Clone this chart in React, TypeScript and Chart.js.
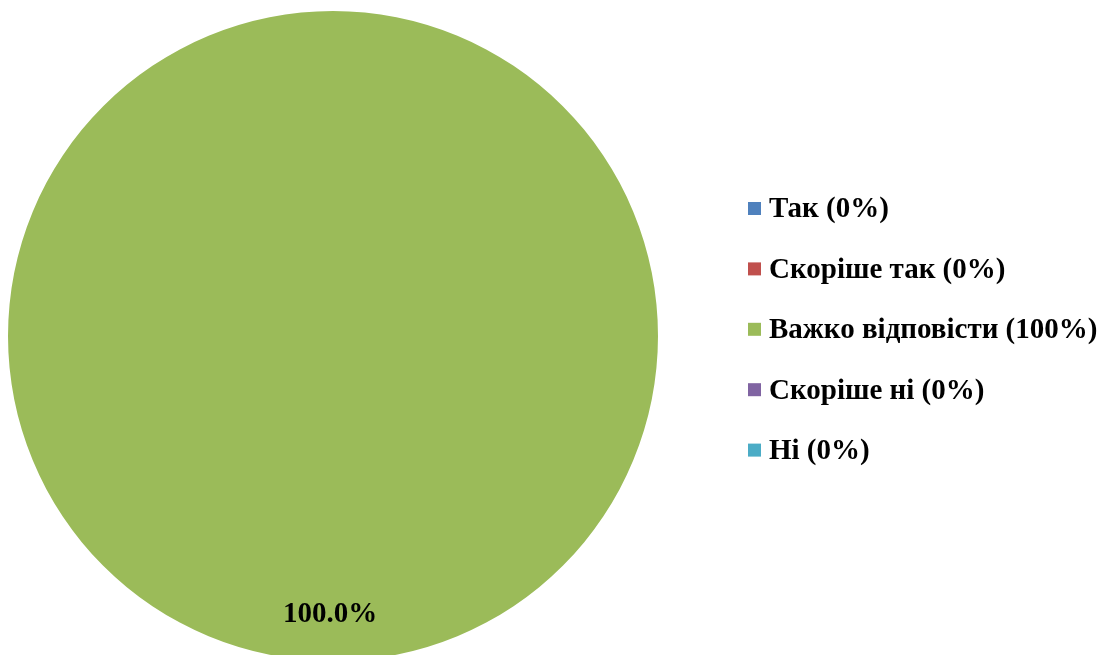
import React, { useEffect, useRef } from "react";
import { Chart, registerables } from "chart.js";

Chart.register(...registerables);

const categories = ["Так (0%)", "Скоріше так (0%)", "Важко відповісти (100%)", "Скоріше ні (0%)", "Ні (0%)"];
const values = [0, 0, 100, 0, 0];
const colors = ["#4F81BD", "#C0504D", "#9BBB59", "#8064A2", "#4BACC6"];
const dataLabels = ["", "", "100.0%", "", ""];

const FONT = "bold 29px 'Liberation Serif', 'Times New Roman', serif";

const overlayPlugin = {
  id: "overlay",
  afterDraw(chart: any) {
    const ctx = chart.ctx;
    const meta = chart.getDatasetMeta(0);
    ctx.save();
    // data labels
    ctx.font = FONT;
    ctx.fillStyle = "#000";
    ctx.textAlign = "center";
    ctx.textBaseline = "middle";
    meta.data.forEach((arc: any, i: number) => {
      if (!values[i] || !dataLabels[i]) return;
      const p = arc.getProps(["x", "y", "startAngle", "endAngle", "outerRadius"], true);
      const mid = (p.startAngle + p.endAngle) / 2;
      const r = p.outerRadius * 0.855;
      ctx.fillText(dataLabels[i], p.x - 3 + Math.cos(mid) * r, p.y + 1 + Math.sin(mid) * r);
    });
    // legend
    const lx = 748;
    const y0 = 209;
    const step = 60.4;
    ctx.font = FONT;
    ctx.textAlign = "left";
    ctx.textBaseline = "middle";
    categories.forEach((c, i) => {
      const y = y0 + i * step;
      ctx.fillStyle = colors[i];
      ctx.fillRect(lx, y - 7, 13, 13);
      ctx.fillStyle = "#000";
      ctx.fillText(c, 769, y + 1);
    });
    ctx.restore();
  },
};

export default function App() {
  const ref = useRef<HTMLCanvasElement>(null);
  useEffect(() => {
    if (!ref.current) return;
    const chart = new Chart(ref.current, {
      type: "pie",
      data: {
        labels: categories,
        datasets: [
          {
            data: values,
            backgroundColor: colors,
            borderWidth: 0,
          },
        ],
      },
      options: {
        responsive: false,
        animation: false,
        layout: { padding: { left: 8, top: 11, right: 454, bottom: 0 } },
        plugins: {
          legend: { display: false },
          tooltip: { enabled: false },
        },
      },
      plugins: [overlayPlugin],
    });
    return () => chart.destroy();
  }, []);
  return (
    <div
      style={{
        position: "fixed",
        left: 0,
        top: 0,
        width: 1112,
        height: 655,
        overflow: "hidden",
        background: "#fff",
      }}
    >
      <canvas ref={ref} width={1112} height={661} style={{ display: "block" }} />
    </div>
  );
}
